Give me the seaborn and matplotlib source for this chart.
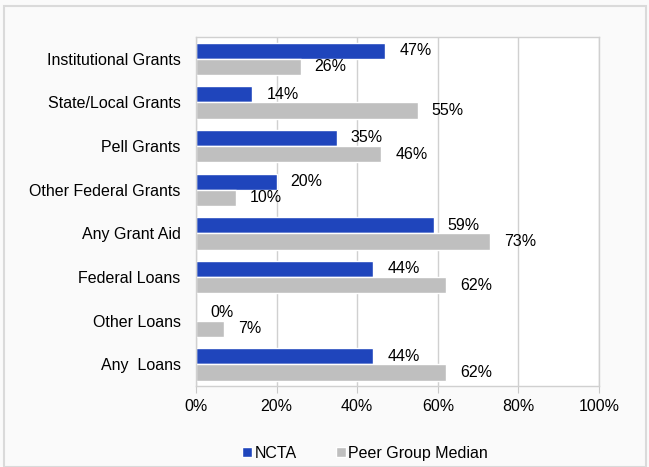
import pandas as pd
import matplotlib.pyplot as plt
import seaborn as sns
from matplotlib.patches import Rectangle

categories = ['Institutional Grants', 'State/Local Grants', 'Pell Grants',
              'Other Federal Grants', 'Any Grant Aid', 'Federal Loans',
              'Other Loans', 'Any  Loans']
ncta = [47, 14, 35, 20, 59, 44, 0, 44]
peer = [26, 55, 46, 10, 73, 62, 7, 62]
series = ['NCTA', 'Peer Group Median']
colors = ['#1F45BC', '#BFBFBF']

df = pd.DataFrame({
    'category': categories * 2,
    'value': ncta + peer,
    'group': [series[0]] * len(ncta) + [series[1]] * len(peer),
})

sns.set_style('white')
plt.rcParams['font.family'] = ['Liberation Sans', 'DejaVu Sans']
plt.rcParams['text.color'] = 'black'
plt.rcParams['xtick.labelcolor'] = 'black'
plt.rcParams['ytick.labelcolor'] = 'black'

fig = plt.figure(figsize=(6.49, 4.67), dpi=100)
fig.patch.set_facecolor('#FAFAFA')
fig.patches.append(Rectangle((0.006, 0.0), 0.99, 0.988, transform=fig.transFigure,
                             fill=False, edgecolor='#DADADA', linewidth=1.5))
ax = fig.add_axes([0.302, 0.173, 0.621, 0.748])

sns.barplot(data=df, y='category', x='value', hue='group', palette=colors,
            orient='h', width=0.74, ax=ax, saturation=1)

for cont in ax.containers:
    ax.bar_label(cont, labels=[f'{v:.0f}%' for v in cont.datavalues],
                 padding=10, fontsize=11.5, color='black')

ax.set_xlim(0, 100)
ax.set_xticks(range(0, 101, 20))
ax.set_xticklabels([f'{t}%' for t in range(0, 101, 20)], fontsize=11.5)
ax.tick_params(axis='y', labelsize=11.5, length=0, pad=11)
ax.tick_params(axis='x', length=5, color='#C8C8C8', direction='out', pad=4, bottom=True)
ax.xaxis.grid(True, color='#D0D0D0', linewidth=1)
ax.set_axisbelow(True)
ax.set_xlabel('')
ax.set_ylabel('')
for s in ax.spines.values():
    s.set_color('#D0D0D0')
    s.set_linewidth(1)

ax.legend(loc='upper center', bbox_to_anchor=(0.42, -0.13), ncol=2, frameon=False,
          fontsize=11.5, handlelength=0.6, handleheight=0.6, handletextpad=0.15,
          columnspacing=2.5)

fig.savefig('out.png', dpi=100, facecolor=fig.get_facecolor())
